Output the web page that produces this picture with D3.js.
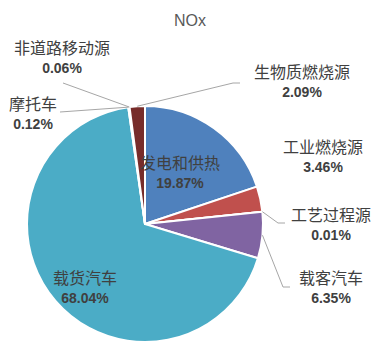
<!DOCTYPE HTML>
<html>
  <head>
    <meta charset="utf-8">
    <script src="https://d3js.org/d3.v7.min.js"></script>
    <style>
      body { margin: 0; background: #fff; }
      svg { display: block; }
      .name { font: 16px "Noto Sans CJK SC", sans-serif; fill: #404040; text-anchor: middle; }
      .pct { font: bold 14px "Liberation Sans", "Noto Sans CJK SC", sans-serif; fill: #404040; text-anchor: middle; }
      .title { font: 16px "Liberation Sans", sans-serif; fill: #595959; text-anchor: middle; }
      .leader { fill: none; stroke: #a6a6a6; stroke-width: 1; }
    </style>
    <title>NOx</title>
  </head>
  <body>
    <svg id="chart"></svg>
    <script>
      // slices, clockwise from 12 o'clock
      var categories = ["发电和供热", "工业燃烧源", "工艺过程源", "载客汽车", "载货汽车", "摩托车", "非道路移动源", "生物质燃烧源"];
      var values = [19.87, 3.46, 0.01, 6.35, 68.04, 0.12, 0.06, 2.09];
      var labels = ["19.87%", "3.46%", "0.01%", "6.35%", "68.04%", "0.12%", "0.06%", "2.09%"];
      var colors = ["#4f81bd", "#c0504d", "#9bbb59", "#8064a2", "#4bacc6", "#f79646", "#2c4d75", "#772c2a"];

      // label layout (centre of name line) and leader line bends, null = no leader
      var labelPos = [[180, 163], [323, 147], [331, 215], [331, 278], [85, 278], [33, 104], [62, 48], [302, 72]];
      var leaderEnd = [null, null, [[278, 223], [285, 223]], [[283, 287], [290, 287]], null, [[60, 112]], [[63, 83]], [[233, 83], [240, 83]]];

      var width = 380, height = 360, cx = 145, cy = 224, radius = 118;

      var svg = d3.select("#chart").attr("width", width).attr("height", height);

      svg.append("text").attr("class", "title").attr("x", 190).attr("y", 26).text("NOx");

      var pie = d3.pie().sort(null).value(function(d){ return d; });
      var arcs = pie(values);
      var arc = d3.arc().innerRadius(0).outerRadius(radius);

      var g = svg.append("g").attr("transform", "translate(" + cx + "," + cy + ")");

      g.selectAll("path.slice").data(arcs).enter().append("path")
        .attr("class", "slice")
        .attr("d", arc)
        .attr("fill", function(d, i){ return colors[i]; })
        .attr("stroke", "#fff")
        .attr("stroke-width", 2)
        .attr("stroke-linejoin", "round");

      // leader lines from slice edge to label
      var line = d3.line();
      arcs.forEach(function(d, i){
        if (!leaderEnd[i]) return;
        var a = (d.startAngle + d.endAngle) / 2;
        var p0 = [cx + radius * Math.sin(a), cy - radius * Math.cos(a)];
        svg.append("path").attr("class", "leader").attr("d", line([p0].concat(leaderEnd[i])));
      });

      var lab = svg.selectAll("g.lab").data(categories).enter().append("g")
        .attr("class", "lab")
        .attr("transform", function(d, i){ return "translate(" + labelPos[i][0] + "," + labelPos[i][1] + ")"; });
      lab.append("text").attr("class", "name").attr("y", 6).text(function(d){ return d; });
      lab.append("text").attr("class", "pct").attr("y", 25).text(function(d, i){ return labels[i]; });
    </script>
  </body>
</html>
